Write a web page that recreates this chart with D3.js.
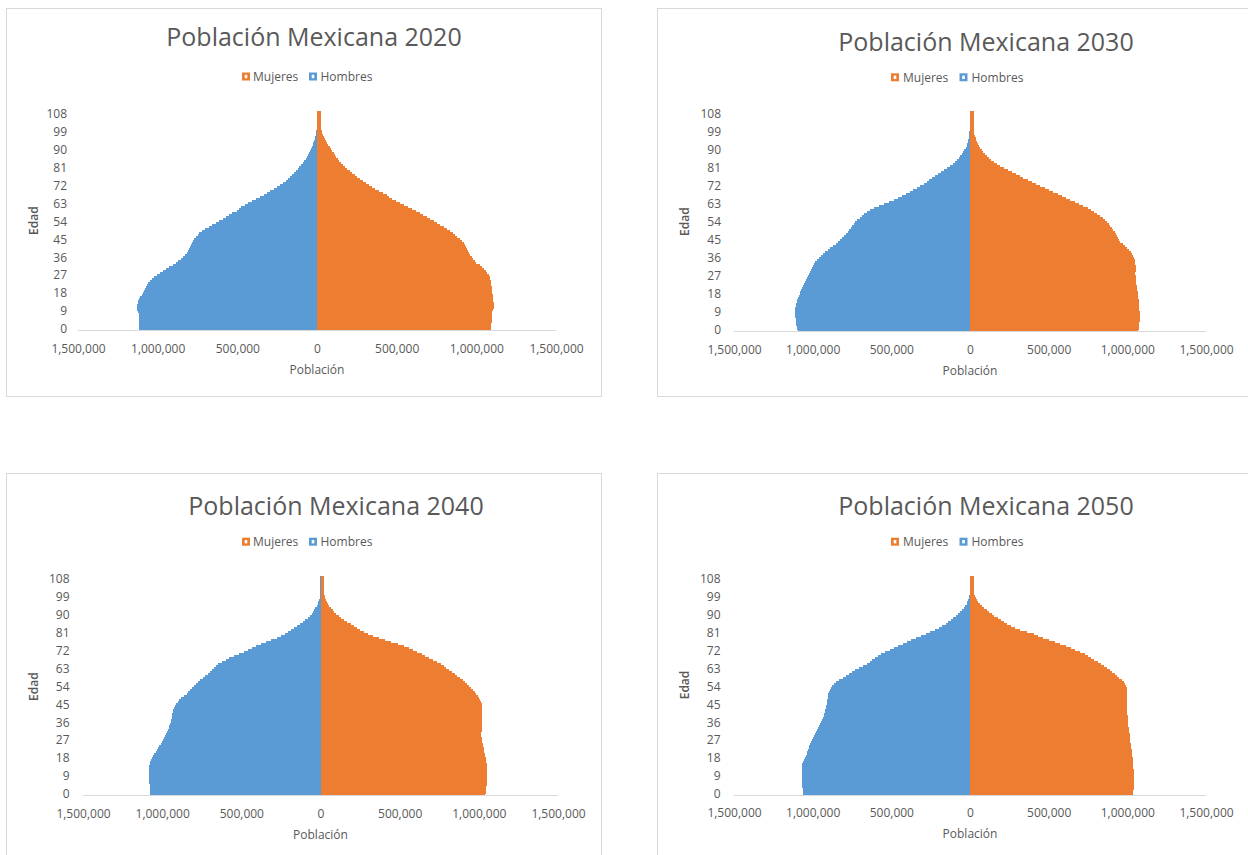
<!DOCTYPE html>
<html><head><meta charset="utf-8">
<script src="https://cdn.jsdelivr.net/npm/d3@7"></script>
<style>
html,body{margin:0;padding:0;background:#fff;overflow:hidden;}
svg{display:block;font-family:"Open Sans",sans-serif;}
</style></head><body>
<svg id="chart" width="1248" height="855"></svg>
<script>
// ---------- DATA (population in thousands) ----------
const ages = [0,1,2,3,4,5,6,7,8,9,10,11,12,13,14,15,16,17,18,19,20,21,22,23,24,25,26,27,28,29,
30,31,32,33,34,35,36,37,38,39,40,41,42,43,44,45,46,47,48,49,50,51,52,53,54,55,56,57,58,59,
60,61,62,63,64,65,66,67,68,69,70,71,72,73,74,75,76,77,78,79,80,81,82,83,84,85,86,87,88,89,
90,91,92,93,94,95,96,97,98,99,100,101,102,103,104,105,106,107,108,109];
const yTickAges = [0,9,18,27,36,45,54,63,72,81,90,99,108];
const xTickValues = [-1500,-1000,-500,0,500,1000,1500];
const xTickLabels = ["1,500,000","1,000,000","500,000","0","500,000","1,000,000","1,500,000"];
const years = ["2020","2030","2040","2050"];
const titles = ["Población Mexicana 2020","Población Mexicana 2030","Población Mexicana 2040","Población Mexicana 2050"];
const seriesNames = ["Mujeres","Hombres"];

const hombres2020 = [1117,1117,1117,1117,1118,1118,1119,1119,1120,1121,
1128,1130,1129,1126,1121,1115,1108,1101,1094,1087,
1081,1075,1068,1058,1046,1035,1020,1005,985,965,
950,930,905,885,870,855,840,828,818,810,
804,798,792,786,778,770,762,750,738,723,
700,680,660,635,612,592,572,553,533,505,
490,475,455,430,405,385,360,335,315,295,
270,250,232,213,196,182,170,158,146,133,
121,110,100,90,80,71,64,57,50,43,
37,31,26,22,18,14,11,8,6,4,
3,2,2,1,1,1,0,0,0,0];
const mujeres2020 = [1095,1095,1095,1095,1096,1096,1097,1097,1098,1098,
1104,1108,1108,1108,1106,1105,1104,1102,1101,1100,
1099,1097,1095,1093,1091,1088,1083,1077,1068,1058,
1045,1035,1020,1000,990,980,970,962,955,950,
942,935,928,922,910,895,880,865,852,835,
815,795,775,755,735,712,690,668,645,620,
598,572,547,522,497,472,455,440,415,390,
362,343,325,306,287,268,252,236,220,205,
190,176,165,152,140,130,120,112,104,96,
88,80,72,64,56,50,44,38,34,30,
27,27,27,27,27,27,27,27,27,27];
const hombres2030 = [1094,1097,1100,1103,1106,1108,1109,1110,1111,1111,
1111,1110,1108,1105,1101,1097,1093,1088,1083,1079,
1073,1067,1061,1055,1049,1042,1036,1030,1023,1016,
1010,1004,998,991,983,973,960,950,935,919,
904,889,872,853,838,825,813,798,787,777,
767,757,747,737,729,716,701,689,676,655,
635,610,579,544,513,483,457,432,406,384,
361,335,315,295,276,259,242,224,203,183,
166,147,127,110,97,83,71,61,51,43,
35,28,22,18,14,11,9,7,5,4,
3,3,3,3,3,3,3,3,3,3];
const mujeres2030 = [1069,1071,1073,1075,1077,1078,1079,1079,1079,1078,
1077,1076,1075,1074,1073,1072,1070,1069,1067,1065,
1063,1061,1059,1057,1055,1053,1052,1052,1051,1051,
1052,1052,1052,1051,1050,1047,1041,1034,1028,1021,
1011,998,986,970,955,945,939,933,927,919,
911,902,892,882,872,860,843,825,808,790,
772,752,721,691,665,638,610,584,559,530,
503,478,447,422,396,368,340,315,290,266,
242,215,191,171,152,135,120,106,93,83,
74,66,58,51,45,39,35,31,28,26,
25,25,25,25,25,25,25,25,25,25];
const hombres2040 = [1074,1075,1076,1077,1078,1080,1081,1082,1083,1084,
1085,1085,1085,1084,1083,1080,1077,1073,1066,1058,
1050,1042,1034,1026,1018,1010,1002,994,986,980,
974,968,962,958,954,950,947,944,941,938,
936,933,930,926,920,912,903,892,878,862,
845,835,822,810,800,788,775,760,745,730,
712,698,685,672,660,645,625,600,575,545,
515,485,458,430,405,375,345,310,275,250,
225,205,185,165,148,130,112,95,80,67,
56,47,39,32,25,18,13,9,6,4,
3,3,3,3,3,3,3,3,3,3];
const mujeres2040 = [1042,1043,1045,1046,1048,1050,1051,1052,1053,1053,
1053,1053,1053,1053,1052,1050,1048,1046,1043,1040,
1037,1034,1032,1030,1028,1025,1022,1020,1018,1016,
1015,1016,1018,1020,1021,1021,1021,1021,1022,1022,
1022,1022,1021,1021,1020,1018,1013,1008,1000,992,
984,975,962,950,938,925,910,898,882,865,
848,830,812,795,778,758,735,712,688,662,
638,612,585,560,530,490,448,405,368,332,
300,275,252,230,210,190,170,150,130,115,
100,88,76,65,55,45,38,32,29,27,
25,25,25,25,25,25,25,25,25,25];
const hombres2050 = [1060,1061,1062,1064,1065,1066,1067,1068,1069,1070,
1070,1070,1070,1069,1068,1066,1062,1057,1050,1044,
1039,1034,1030,1026,1021,1017,1011,1005,998,992,
985,979,972,966,960,954,948,942,936,930,
926,922,919,916,913,911,909,907,905,903,
900,895,890,884,877,866,850,830,810,790,
772,750,728,705,680,655,635,622,605,585,
565,540,510,482,455,428,400,372,342,310,
280,252,225,198,175,155,138,122,106,92,
78,65,52,40,30,22,16,12,8,5,
3,3,3,3,3,3,3,3,3,3];
const mujeres2050 = [1034,1036,1038,1040,1041,1042,1042,1042,1042,1042,
1042,1041,1040,1039,1038,1037,1036,1034,1033,1031,
1030,1029,1027,1026,1024,1022,1020,1019,1017,1016,
1014,1012,1010,1009,1007,1006,1005,1004,1003,1002,
1001,1000,1000,1000,1000,1000,1000,1000,1000,999,
999,998,997,996,993,988,980,965,948,935,
920,905,888,870,852,832,812,790,770,750,
728,700,670,640,610,575,540,500,465,435,
405,365,320,285,260,238,215,195,175,155,
138,120,105,90,76,63,52,42,35,29,
25,25,25,25,25,25,25,25,25,25];

const hombres = [hombres2020, hombres2030, hombres2040, hombres2050];
const mujeres = [mujeres2020, mujeres2030, mujeres2040, mujeres2050];

// ---------- LAYOUT ----------
const COL_M = "#ED7D31", COL_H = "#5B9BD5", TXT = "#595959", GRID = "#D9D9D9";
const panels = [
  {bx:6.5, by:8.5, bw:595, bh:388, tcx:314, tby:46, ly:76.5, lx:[242,253,309,320.5], ylr:67,
   xr:[78,556], yr:[330,111], ty:349, xty:369.3, ex:34.2, ey:220.7},
  {bx:657.5, by:8.5, bw:640, bh:388, tcx:986, tby:51, ly:77.3, lx:[891,903,959.5,971.5], ylr:721,
   xr:[734,1206], yr:[331,111], ty:350, xty:370.7, ex:684.3, ey:221.7},
  {bx:6.5, by:473.5, bw:595, bh:400, tcx:336, tby:514.5, ly:541.7, lx:[242,253,309,320.5], ylr:69.5,
   xr:[83,558], yr:[795,576], ty:813.3, xty:834.3, ex:34.2, ey:686.7},
  {bx:657.5, by:473.5, bw:640, bh:400, tcx:986, tby:514.5, ly:541.7, lx:[891,903,959.5,971.5], ylr:720.5,
   xr:[734,1206], yr:[795,576], ty:812.5, xty:833.3, ex:684.3, ey:685}
];

const svg = d3.select("#chart");

panels.forEach((p, i) => {
  const g = svg.append("g");
  g.append("rect").attr("x", p.bx).attr("y", p.by).attr("width", p.bw).attr("height", p.bh)
    .attr("fill", "#fff").attr("stroke", GRID).attr("stroke-width", 1);

  // title
  g.append("text").attr("x", p.tcx).attr("y", p.tby).attr("text-anchor", "middle")
    .attr("font-size", 25).attr("fill", TXT).text(titles[i]);

  // legend
  const leg = [[COL_M, seriesNames[0], p.lx[0], p.lx[1]], [COL_H, seriesNames[1], p.lx[2], p.lx[3]]];
  leg.forEach(([c, name, mx, tx]) => {
    g.append("rect").attr("x", mx).attr("y", p.ly - 4).attr("width", 8).attr("height", 8).attr("fill", c);
    g.append("rect").attr("x", mx + 2.7).attr("y", p.ly - 1.7).attr("width", 2.6).attr("height", 3.4).attr("fill", "#fff");
    g.append("text").attr("x", tx).attr("y", p.ly).attr("dy", "0.35em").attr("font-size", 12)
      .attr("fill", TXT).text(name);
  });

  // scales
  const x = d3.scaleLinear().domain([xTickValues[0], xTickValues[xTickValues.length - 1]]).range(p.xr);
  const y = d3.scaleBand().domain(ages).range(p.yr).paddingInner(0).paddingOuter(0);
  const bw = y.bandwidth();

  const rowsH = ages.map((a, k) => ({age: a, v: hombres[i][k]}));
  const rowsM = ages.map((a, k) => ({age: a, v: mujeres[i][k]}));

  const bars = g.append("g").attr("shape-rendering", "crispEdges");
  bars.append("g").selectAll("rect").data(rowsH).join("rect")
    .attr("x", d => x(-d.v)).attr("width", d => x(0) - x(-d.v))
    .attr("y", d => y(d.age) - 0.5).attr("height", bw + 1).attr("fill", COL_H);
  bars.append("g").selectAll("rect").data(rowsM).join("rect")
    .attr("x", x(0)).attr("width", d => x(d.v) - x(0))
    .attr("y", d => y(d.age) - 0.5).attr("height", bw + 1).attr("fill", COL_M);

  // x axis line
  g.append("line").attr("x1", p.xr[0]).attr("x2", p.xr[1])
    .attr("y1", p.yr[0] + 0.5).attr("y2", p.yr[0] + 0.5).attr("stroke", GRID).attr("stroke-width", 1);

  // x axis labels
  const xa = g.append("g").attr("transform", `translate(0,${p.ty})`)
    .call(d3.axisBottom(x).tickValues(xTickValues).tickSize(0).tickPadding(0)
      .tickFormat((d, k) => xTickLabels[k]));
  xa.select(".domain").remove();
  xa.selectAll("text").attr("y", 0).attr("dy", "0.35em").attr("fill", TXT)
    .attr("font-size", 12).attr("font-family", "Open Sans, sans-serif");

  // y axis labels
  const ya = g.append("g").attr("transform", `translate(${p.ylr},0)`)
    .call(d3.axisLeft(y).tickValues(yTickAges).tickSize(0).tickPadding(0));
  ya.select(".domain").remove();
  ya.selectAll("text").attr("fill", TXT).attr("font-size", 12).attr("dy", "0.35em")
    .attr("font-family", "Open Sans, sans-serif");

  // axis titles
  g.append("text").attr("x", x(0)).attr("y", p.xty).attr("dy", "0.35em").attr("text-anchor", "middle")
    .attr("font-size", 12).attr("fill", TXT).text("Población");
  g.append("text").attr("transform", `translate(${p.ex},${p.ey}) rotate(-90)`)
    .attr("dy", "0.35em").attr("text-anchor", "middle").attr("font-size", 12)
    .attr("font-weight", 600).attr("fill", TXT).text("Edad");
});
</script>
</body></html>
